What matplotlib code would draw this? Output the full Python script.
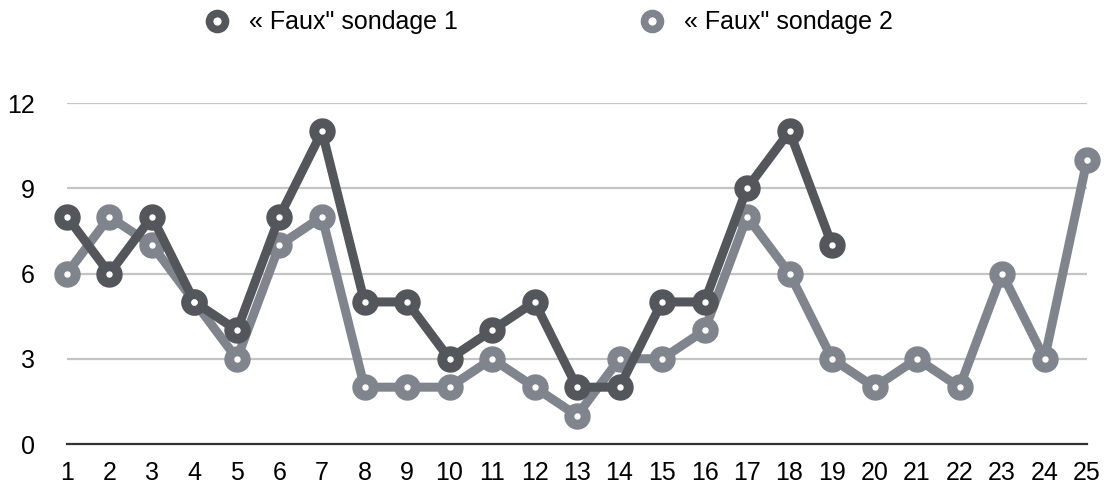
import matplotlib.pyplot as plt
from matplotlib.lines import Line2D

plt.rcParams['font.family'] = ['Liberation Sans', 'DejaVu Sans']

# Données
jours = list(range(1, 26))
sondage1 = [8, 6, 8, 5, 4, 8, 11, 5, 5, 3, 4, 5, 2, 2, 5, 5, 9, 11, 7]
sondage2 = [6, 8, 7, 5, 3, 7, 8, 2, 2, 2, 3, 2, 1, 3, 3, 4, 8, 6, 3, 2, 3, 2, 6, 3, 10]
noms = ['« Faux" sondage 1', '« Faux" sondage 2']
couleurs = ['#53565b', '#80848c']

fig = plt.figure(figsize=(11.07, 4.86), dpi=100)
ax = fig.add_axes([0.0605, 0.0864, 0.9215, 0.7016])

series = [sondage2, sondage1]
cols = [couleurs[1], couleurs[0]]
for vals, c in zip(series, cols):
    x = jours[:len(vals)]
    ax.plot(x, vals, color=c, lw=6.5, marker='o', ms=18, mfc=c, mec=c,
            solid_joinstyle='round', clip_on=False, zorder=3)
    ax.plot(x, vals, ls='none', marker='o', ms=3.6, color='white',
            clip_on=False, zorder=4)

ax.set_xlim(1, 25)
ax.set_ylim(0, 12)
ax.set_xticks(jours)
ax.set_yticks([0, 3, 6, 9, 12])
ax.tick_params(length=0, labelsize=18, colors='black')
ax.tick_params(axis='x', pad=12)
ax.tick_params(axis='y', pad=23)
for y in [3, 6, 9, 12]:
    ax.axhline(y, color='#c4c4c4', lw=1.6, zorder=1)
for s in ['top', 'right', 'left']:
    ax.spines[s].set_visible(False)
ax.spines['bottom'].set_color('#333333')
ax.spines['bottom'].set_linewidth(1.6)
ax.spines['bottom'].set_zorder(2)

# Légende
poignees = [Line2D([], [], color=c, marker='o', ls='none', ms=11.5, mfc='white',
                   mec=c, mew=5.5) for c in couleurs]
fig.legend(poignees, noms, loc='upper left', bbox_to_anchor=(0.164, 1.025),
           ncol=2, frameon=False, fontsize=18, columnspacing=7.25,
           handletextpad=0.8, handlelength=1.0)

fig.savefig('out.png', dpi=100)
